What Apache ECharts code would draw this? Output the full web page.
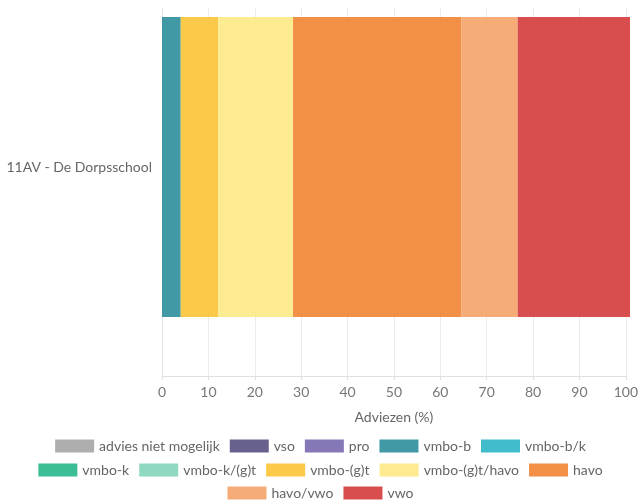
<!DOCTYPE html>
<html>
<head>
<meta charset="utf-8">
<script src="https://cdn.jsdelivr.net/npm/echarts@6/dist/echarts.min.js"></script>
<style>html,body{margin:0;padding:0;background:#fff}#c{width:641px;height:500px}</style>
</head>
<body>
<div id="c"></div>
<script>
const categories = ["11AV - De Dorpsschool"];
const seriesNames = ["advies niet mogelijk","vso","pro","vmbo-b","vmbo-b/k","vmbo-k","vmbo-k/(g)t","vmbo-(g)t","vmbo-(g)t/havo","havo","havo/vwo","vwo"];
const seriesValues = [0, 0, 0, 4, 0, 0, 0, 8, 16, 36, 12, 24];
const colors = ["#aaaaaa","#5f5a87","#8071b2","#36939f","#36b8c9","#30b990","#89d6bf","#fcc63f","#fdea8b","#f28a3e","#f4a86f","#d64444"];
const xTicks = [0,10,20,30,40,50,60,70,80,90,100];
const legendRows = [seriesNames.slice(0,5), seriesNames.slice(5,10), seriesNames.slice(10)];

const font = "Lato, 'Open Sans', sans-serif";
const chart = echarts.init(document.getElementById('c'));
const legendTops = [434, 458, 481];
chart.setOption({
  animation: false,
  textStyle: { fontFamily: font },
  grid: [
    { left: 162, right: 11, top: 8, height: 318 },
    { left: 162, right: 11, top: 8, bottom: 124 }
  ],
  xAxis: [
    { gridIndex: 0, type: 'value', min: 0, max: 100, show: false },
    { gridIndex: 1, type: 'value', min: xTicks[0], max: xTicks[xTicks.length-1], interval: 10,
      name: 'Adviezen (%)', nameLocation: 'middle', nameGap: 34,
      nameTextStyle: { color: '#666', fontSize: 14, fontFamily: font },
      axisLine: { show: true, lineStyle: { color: '#e0e0e0' } },
      axisTick: { show: true, length: 4, lineStyle: { color: '#e0e0e0' } },
      axisLabel: { color: '#777', fontSize: 14, fontFamily: font, margin: 9 },
      splitLine: { show: true, lineStyle: { color: '#ebebeb' } }
    }
  ],
  yAxis: [
    { gridIndex: 0, type: 'category', data: categories,
      axisLine: { show: false }, axisTick: { show: false },
      axisLabel: { color: '#666', fontSize: 14, fontFamily: font, margin: 10 } },
    { gridIndex: 1, type: 'value', min: 0, max: 1,
      axisLine: { show: true, lineStyle: { color: '#e0e0e0' } },
      axisTick: { show: false }, axisLabel: { show: false }, splitLine: { show: false } }
  ],
  legend: legendRows.map((row, r) => ({
    left: 'center', top: legendTops[r],
    itemWidth: 39, itemHeight: 13, itemGap: 10,
    icon: 'rect',
    textStyle: { color: '#666', fontSize: 14, fontFamily: font },
    data: row
  })),
  series: seriesNames.map((n, i) => ({
    name: n, type: 'bar', stack: 'total', xAxisIndex: 0, yAxisIndex: 0,
    barWidth: 300,
    itemStyle: { color: colors[i], opacity: 0.95 },
    data: [seriesValues[i]]
  }))
});
</script>
</body>
</html>
